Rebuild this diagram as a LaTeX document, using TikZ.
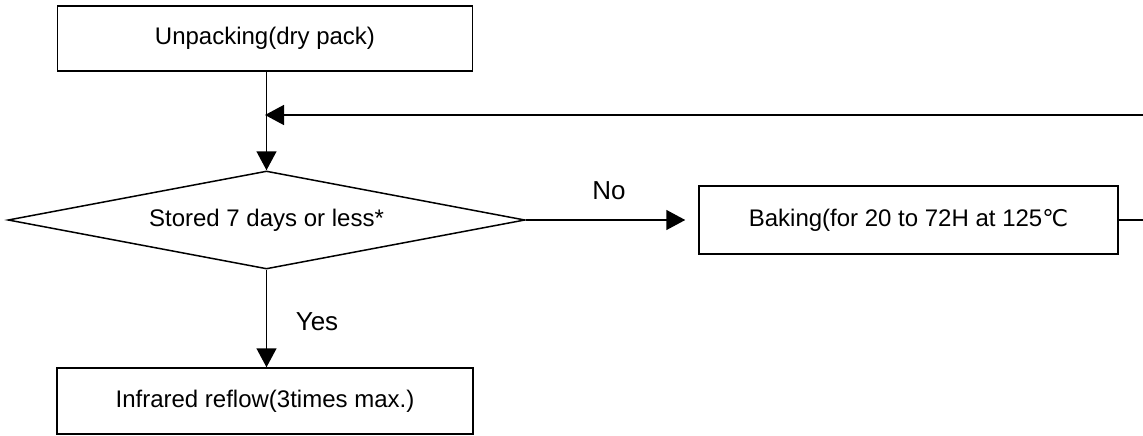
\documentclass[tikz,border=0pt]{standalone}
\usepackage{fontspec}
\setmainfont{Liberation Sans}
\newfontfamily\symfont{DejaVu Sans}
\usetikzlibrary{shapes.geometric,arrows.meta}
\begin{document}
\begin{tikzpicture}[x=1pt, y=-1pt, line width=1.5pt,
  flowbox/.style={draw, rectangle, inner sep=0pt, font=\fontsize{24}{28}\selectfont},
  decision/.style={draw, diamond, aspect=5.3, inner sep=0pt, minimum width=517pt, minimum height=98pt, font=\fontsize{24}{28}\selectfont},
  flowlabel/.style={font=\fontsize{26}{30}\selectfont},
  >={Triangle[length=19pt, width=20pt]}]
\useasboundingbox (0,0) rectangle (1143,436);

% Boxes
\node[flowbox, minimum width=415pt, minimum height=65pt] (unpack) at (265, 38.5) {Unpacking(dry pack)};
\node[decision] (stored) at (266.5, 220) {Stored 7 days or less*};
\node[flowbox, minimum width=419pt, minimum height=68pt] (baking) at (908.5, 220) {Baking(for 20 to 72H at 125{\symfont\fontsize{23}{27}\selectfont ℃}};
\node[flowbox, minimum width=416pt, minimum height=66pt] (reflow) at (265, 401) {Infrared reflow(3times max.)};

% Return path from baking (runs off the right edge)
\coordinate (edgelow) at (1150, 220);
\coordinate (edgehigh) at (1150, 115);
\coordinate (join) at (265, 115);

% Arrows
\draw[->] (unpack.south -| stored.north) -- (stored.north);
\draw[->] (baking.east) -- (edgelow) -- (edgehigh) -- (join);
\draw[->, shorten >=13pt] (stored.east) -- (baking.west);
\draw[->] (stored.south) -- (stored.south |- reflow.north);

% Labels
\node[flowlabel] (nolabel) at (609, 191) {No};
\node[flowlabel] (yeslabel) at (317, 322) {Yes};

\end{tikzpicture}
\end{document}
